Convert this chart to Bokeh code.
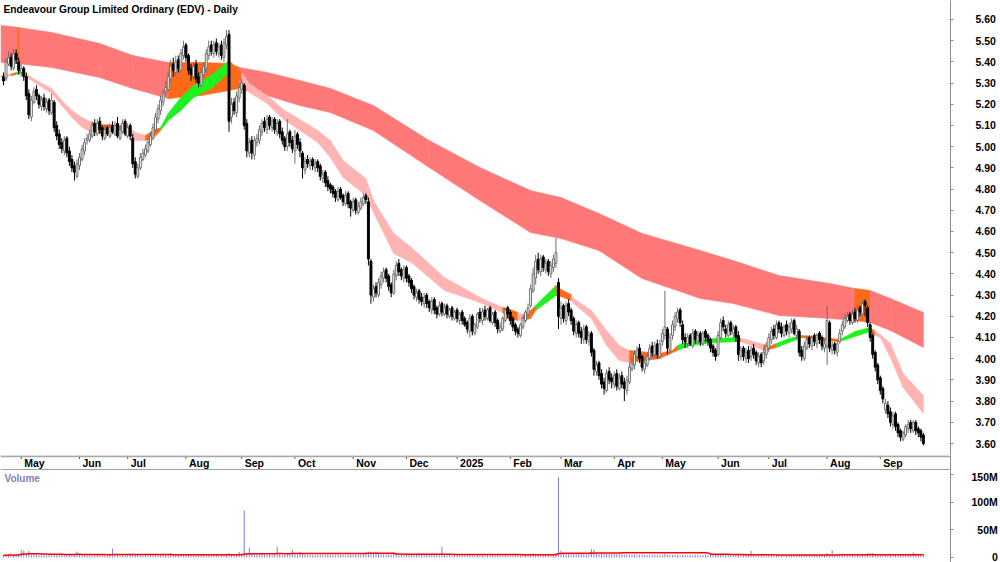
import numpy as np
import pandas as pd
from bokeh.plotting import figure
from bokeh.layouts import column
from bokeh.models import Range1d, FixedTicker, Label, Span, NumeralTickFormatter
from bokeh.embed import file_html
from bokeh.resources import INLINE
from bokeh.core.properties import value

FONT = "Liberation Sans"
FS = "10.5px"

title_text = "Endeavour Group Limited Ordinary (EDV) - Daily"

holidays = ["2024-04-25", "2024-06-10", "2024-12-25", "2024-12-26", "2025-01-01",
            "2025-01-27", "2025-04-18", "2025-04-21", "2025-04-25", "2025-06-09"]
first_day, last_day = "2024-04-19", "2025-09-24"
month_labels = ["May", "Jun", "Jul", "Aug", "Sep", "Oct", "Nov", "Dec", "2025",
                "Feb", "Mar", "Apr", "May", "Jun", "Jul", "Aug", "Sep"]

price_ticks = [3.60, 3.70, 3.80, 3.90, 4.00, 4.10, 4.20, 4.30, 4.40, 4.50, 4.60,
               4.70, 4.80, 4.90, 5.00, 5.10, 5.20, 5.30, 5.40, 5.50, 5.60]
vol_ticks = [0, 50, 100, 150]
vol_tick_labels = ["0", "50M", "100M", "150M"]

open_ = [
 5.33,5.32,5.39,5.42,5.37,5.44,5.40,5.35,5.37,5.33,
 5.25,5.14,5.21,5.27,5.24,5.19,5.23,5.18,5.22,5.16,
 5.21,5.10,5.06,5.02,4.98,5.04,4.98,4.94,4.91,4.86,
 4.91,4.94,4.98,5.03,5.03,5.05,5.11,5.06,5.12,5.09,
 5.04,5.09,5.05,5.10,5.06,5.11,5.04,5.07,5.12,5.05,
 5.10,5.04,4.93,4.86,4.90,4.94,4.96,4.98,5.01,5.04,
 5.08,5.13,5.17,5.21,5.26,5.27,5.32,5.39,5.35,5.41,
 5.36,5.43,5.48,5.43,5.37,5.33,5.39,5.33,5.29,5.34,
 5.37,5.43,5.48,5.44,5.49,5.44,5.48,5.42,5.48,5.53,
 5.14,5.21,5.16,5.23,5.27,5.29,5.11,4.97,5.03,4.96,
 5.02,5.03,5.07,5.12,5.08,5.14,5.09,5.13,5.07,5.12,
 5.07,5.04,5.00,5.07,5.03,4.98,5.06,5.02,4.97,4.89,
 4.94,4.91,4.94,4.90,4.93,4.91,4.85,4.88,4.84,4.82,
 4.81,4.79,4.75,4.80,4.77,4.73,4.78,4.74,4.70,4.75,
 4.69,4.71,4.73,4.77,4.74,4.46,4.29,4.34,4.30,4.35,
 4.38,4.42,4.39,4.35,4.31,4.39,4.45,4.42,4.38,4.43,
 4.39,4.37,4.34,4.29,4.32,4.29,4.26,4.30,4.27,4.23,
 4.28,4.24,4.21,4.26,4.21,4.25,4.20,4.24,4.19,4.23,
 4.18,4.22,4.19,4.17,4.13,4.20,4.12,4.15,4.22,4.18,
 4.23,4.19,4.24,4.17,4.22,4.18,4.13,4.14,4.18,4.24,
 4.22,4.19,4.16,4.14,4.11,4.15,4.18,4.21,4.25,4.32,
 4.38,4.47,4.41,4.48,4.42,4.46,4.40,4.43,4.45,4.36,
 4.19,4.25,4.18,4.26,4.23,4.19,4.12,4.17,4.13,4.09,
 4.15,4.08,4.12,4.04,3.94,3.98,3.93,3.89,3.85,3.94,
 3.91,3.88,3.93,3.86,3.92,3.89,3.85,3.89,3.95,3.97,
 4.01,4.05,4.01,3.95,3.97,4.00,4.06,4.02,4.07,4.01,
 4.08,4.11,4.14,4.04,4.11,4.15,4.19,4.23,4.16,4.10,
 4.07,4.11,4.06,4.13,4.08,4.12,4.07,4.13,4.11,4.09,
 4.06,4.04,4.02,4.10,4.18,4.14,4.11,4.17,4.12,4.15,
 4.11,4.01,4.05,4.00,4.04,4.01,4.05,4.03,3.98,4.02,
 3.99,4.02,4.05,4.09,4.14,4.10,4.17,4.15,4.11,4.16,
 4.12,4.14,4.18,4.11,4.13,4.04,4.00,4.05,4.10,4.06,
 4.11,4.07,4.12,4.10,4.05,4.06,4.17,4.04,4.07,4.03,
 4.08,4.13,4.15,4.18,4.21,4.17,4.22,4.18,4.24,4.21,
 4.27,4.24,4.16,4.11,4.03,3.97,3.91,3.86,3.76,3.78,
 3.75,3.69,3.74,3.69,3.66,3.62,3.64,3.67,3.70,3.66,
 3.70,3.67,3.66,3.64]

high = [
 5.35,5.42,5.45,5.44,5.46,5.46,5.42,5.39,5.38,5.35,
 5.27,5.24,5.28,5.29,5.25,5.24,5.25,5.23,5.23,5.25,
 5.22,5.12,5.08,5.04,5.05,5.05,5.00,4.96,4.93,4.94,
 4.97,5.01,5.04,5.06,5.08,5.12,5.13,5.13,5.14,5.10,
 5.10,5.10,5.11,5.12,5.12,5.14,5.10,5.13,5.13,5.11,
 5.11,5.06,4.95,4.92,4.97,4.99,5.01,5.04,5.07,5.11,
 5.16,5.20,5.24,5.27,5.31,5.35,5.41,5.42,5.43,5.43,
 5.46,5.50,5.49,5.44,5.39,5.40,5.41,5.35,5.37,5.40,
 5.46,5.50,5.50,5.50,5.51,5.49,5.50,5.51,5.55,5.55,
 5.23,5.23,5.26,5.30,5.32,5.30,5.13,5.04,5.05,5.05,
 5.06,5.10,5.13,5.14,5.15,5.15,5.14,5.14,5.13,5.13,
 5.09,5.05,5.13,5.08,5.05,5.08,5.07,5.04,4.98,4.95,
 4.96,4.95,4.95,4.94,4.94,4.92,4.89,4.89,4.86,4.83,
 4.82,4.80,4.81,4.81,4.78,4.79,4.79,4.75,4.76,4.76,
 4.74,4.76,4.78,4.78,4.76,4.47,4.35,4.36,4.38,4.41,
 4.43,4.43,4.40,4.36,4.42,4.46,4.47,4.43,4.44,4.44,
 4.40,4.38,4.35,4.33,4.33,4.31,4.31,4.31,4.28,4.29,
 4.29,4.25,4.27,4.27,4.26,4.26,4.24,4.25,4.23,4.24,
 4.22,4.23,4.20,4.18,4.21,4.21,4.17,4.22,4.24,4.24,
 4.25,4.24,4.25,4.22,4.23,4.19,4.17,4.20,4.24,4.25,
 4.23,4.20,4.17,4.15,4.17,4.20,4.23,4.26,4.35,4.43,
 4.49,4.50,4.49,4.49,4.47,4.47,4.46,4.49,4.57,4.38,
 4.27,4.26,4.27,4.28,4.24,4.20,4.18,4.18,4.15,4.16,
 4.16,4.13,4.13,4.05,3.99,3.99,3.95,3.91,3.95,3.96,
 3.93,3.94,3.95,3.93,3.94,3.91,3.92,3.98,4.00,4.04,
 4.06,4.07,4.02,4.00,4.03,4.07,4.08,4.08,4.09,4.09,
 4.14,4.32,4.15,4.12,4.18,4.22,4.24,4.24,4.18,4.12,
 4.12,4.12,4.14,4.14,4.13,4.13,4.13,4.14,4.12,4.10,
 4.07,4.05,4.13,4.19,4.20,4.16,4.18,4.18,4.16,4.16,
 4.13,4.06,4.06,4.05,4.06,4.06,4.07,4.04,4.03,4.03,
 4.05,4.08,4.12,4.15,4.16,4.18,4.18,4.17,4.16,4.18,
 4.17,4.19,4.19,4.16,4.14,4.06,4.08,4.11,4.11,4.11,
 4.12,4.12,4.13,4.11,4.09,4.25,4.18,4.08,4.08,4.09,
 4.14,4.18,4.21,4.22,4.22,4.23,4.24,4.25,4.25,4.28,
 4.28,4.25,4.17,4.12,4.04,3.98,3.92,3.87,3.81,3.80,
 3.77,3.75,3.75,3.70,3.67,3.66,3.69,3.71,3.71,3.71,
 3.71,3.68,3.67,3.65]

low = [
 5.29,5.31,5.38,5.36,5.36,5.39,5.34,5.33,5.31,5.22,
 5.13,5.12,5.20,5.22,5.18,5.17,5.17,5.16,5.15,5.15,
 5.07,5.03,4.99,4.97,4.96,4.95,4.91,4.88,4.84,4.85,
 4.89,4.93,4.96,5.01,5.02,5.04,5.05,5.05,5.06,5.03,
 5.03,5.05,5.04,5.06,5.05,5.04,5.03,5.06,5.05,5.04,
 5.03,4.90,4.85,4.85,4.89,4.93,4.95,4.97,5.00,5.03,
 5.07,5.11,5.15,5.19,5.24,5.26,5.30,5.33,5.33,5.35,
 5.35,5.41,5.40,5.34,5.31,5.31,5.30,5.28,5.28,5.32,
 5.35,5.41,5.43,5.42,5.43,5.42,5.41,5.40,5.46,5.07,
 5.11,5.15,5.14,5.21,5.25,5.08,4.95,4.95,4.94,4.94,
 5.00,5.01,5.05,5.07,5.06,5.08,5.07,5.06,5.05,5.04,
 5.01,4.98,4.98,5.00,4.97,4.92,4.99,4.95,4.85,4.87,
 4.90,4.89,4.89,4.88,4.88,4.84,4.83,4.81,4.79,4.78,
 4.76,4.74,4.74,4.75,4.72,4.72,4.71,4.67,4.69,4.68,
 4.68,4.70,4.72,4.73,4.44,4.26,4.27,4.29,4.29,4.33,
 4.36,4.36,4.32,4.29,4.30,4.37,4.39,4.37,4.36,4.36,
 4.34,4.31,4.28,4.27,4.26,4.25,4.24,4.24,4.22,4.21,
 4.21,4.19,4.20,4.20,4.20,4.19,4.19,4.18,4.18,4.17,
 4.16,4.16,4.15,4.12,4.10,4.11,4.11,4.14,4.17,4.16,
 4.18,4.18,4.17,4.16,4.15,4.12,4.12,4.13,4.17,4.19,
 4.16,4.13,4.11,4.10,4.10,4.14,4.17,4.20,4.24,4.31,
 4.35,4.40,4.39,4.41,4.40,4.39,4.38,4.41,4.43,4.14,
 4.16,4.17,4.16,4.20,4.16,4.11,4.10,4.10,4.07,4.07,
 4.07,4.06,4.01,3.92,3.92,3.90,3.86,3.83,3.84,3.88,
 3.86,3.86,3.85,3.85,3.86,3.80,3.83,3.88,3.94,3.95,
 3.99,3.98,3.94,3.93,3.96,3.99,4.01,4.00,4.00,4.00,
 4.06,4.09,4.02,4.02,4.09,4.13,4.17,4.15,4.07,4.05,
 4.05,4.06,4.05,4.07,4.07,4.06,4.06,4.08,4.06,4.03,
 4.01,3.99,4.01,4.09,4.13,4.10,4.10,4.11,4.10,4.08,
 3.99,3.99,3.99,3.98,3.98,3.99,4.00,3.97,3.96,3.96,
 3.97,4.00,4.03,4.07,4.09,4.09,4.12,4.10,4.10,4.11,
 4.10,4.12,4.11,4.09,4.01,3.99,3.99,4.04,4.05,4.04,
 4.06,4.05,4.07,4.04,4.03,3.97,4.03,4.02,4.02,4.01,
 4.07,4.11,4.14,4.17,4.16,4.16,4.17,4.17,4.20,4.20,
 4.20,4.15,4.08,4.00,3.94,3.88,3.83,3.79,3.74,3.72,
 3.68,3.67,3.66,3.63,3.61,3.61,3.63,3.65,3.65,3.65,
 3.64,3.63,3.61,3.59]

close = [
 5.31,5.40,5.42,5.38,5.44,5.41,5.36,5.37,5.33,5.24,
 5.15,5.22,5.26,5.24,5.20,5.22,5.19,5.21,5.17,5.22,
 5.09,5.05,5.01,4.99,5.03,4.97,4.93,4.90,4.88,4.92,
 4.95,4.99,5.02,5.04,5.06,5.10,5.07,5.11,5.08,5.05,
 5.08,5.06,5.09,5.07,5.10,5.05,5.08,5.11,5.06,5.09,
 5.05,4.92,4.87,4.90,4.95,4.97,4.99,5.02,5.05,5.09,
 5.14,5.18,5.22,5.25,5.28,5.33,5.38,5.36,5.40,5.37,
 5.44,5.47,5.42,5.36,5.34,5.38,5.32,5.30,5.35,5.38,
 5.44,5.47,5.45,5.48,5.45,5.47,5.43,5.49,5.52,5.12,
 5.20,5.17,5.24,5.28,5.30,5.10,4.98,5.02,4.97,5.03,
 5.04,5.08,5.11,5.09,5.13,5.10,5.12,5.08,5.11,5.06,
 5.03,5.00,5.06,5.02,4.99,5.05,5.01,4.98,4.90,4.93,
 4.92,4.93,4.91,4.92,4.90,4.86,4.87,4.83,4.81,4.80,
 4.78,4.76,4.79,4.76,4.74,4.77,4.73,4.71,4.74,4.70,
 4.72,4.74,4.76,4.75,4.47,4.30,4.33,4.31,4.36,4.39,
 4.41,4.38,4.34,4.31,4.40,4.44,4.41,4.39,4.42,4.38,
 4.36,4.33,4.30,4.31,4.28,4.27,4.29,4.26,4.24,4.27,
 4.23,4.21,4.25,4.22,4.24,4.21,4.23,4.20,4.22,4.19,
 4.21,4.18,4.16,4.14,4.19,4.13,4.16,4.21,4.19,4.22,
 4.20,4.23,4.18,4.21,4.17,4.14,4.15,4.19,4.23,4.21,
 4.18,4.15,4.13,4.12,4.16,4.19,4.22,4.24,4.33,4.40,
 4.46,4.42,4.47,4.43,4.45,4.41,4.44,4.47,4.50,4.20,
 4.24,4.19,4.25,4.22,4.18,4.13,4.16,4.12,4.10,4.14,
 4.09,4.11,4.03,3.95,3.97,3.92,3.88,3.86,3.93,3.90,
 3.89,3.92,3.87,3.91,3.88,3.86,3.90,3.96,3.98,4.02,
 4.04,4.00,3.96,3.98,4.01,4.05,4.03,4.06,4.02,4.07,
 4.12,4.15,4.05,4.10,4.16,4.20,4.22,4.17,4.09,4.08,
 4.10,4.07,4.12,4.09,4.11,4.08,4.12,4.10,4.08,4.05,
 4.03,4.01,4.11,4.17,4.15,4.12,4.16,4.13,4.14,4.10,
 4.02,4.04,4.01,4.03,4.00,4.04,4.02,3.99,4.01,3.98,
 4.03,4.06,4.10,4.13,4.11,4.16,4.14,4.12,4.15,4.13,
 4.15,4.17,4.12,4.14,4.03,4.01,4.06,4.09,4.07,4.10,
 4.08,4.11,4.09,4.06,4.07,4.18,4.05,4.06,4.04,4.07,
 4.12,4.16,4.19,4.20,4.18,4.21,4.19,4.23,4.22,4.26,
 4.25,4.17,4.10,4.02,3.96,3.90,3.85,3.81,3.79,3.74,
 3.70,3.73,3.68,3.65,3.63,3.65,3.68,3.69,3.67,3.70,
 3.66,3.65,3.63,3.60]

volume_m = [
 4.2,3.8,5.1,4.4,3.9,4.6,5.3,14.0,12.5,6.1,
 11.8,5.5,8.2,4.9,4.1,3.6,4.4,3.9,4.7,3.5,
 5.2,4.4,3.9,4.1,3.6,4.8,5.0,4.3,6.2,10.8,
 4.5,3.9,4.2,3.7,4.1,3.5,3.8,4.4,3.6,3.9,
 4.0,3.4,4.6,15.8,5.2,4.1,3.7,4.5,3.8,4.2,
 6.5,7.2,5.6,4.8,4.2,3.9,4.4,3.7,4.1,4.6,
 5.0,4.5,4.9,5.3,4.6,5.8,8.1,4.7,5.2,4.4,
 5.9,4.8,4.3,5.1,4.6,4.0,4.7,5.3,4.2,3.9,
 4.4,4.1,3.8,4.6,4.2,3.9,4.8,5.4,6.2,8.3,
 5.8,4.9,5.6,10.2,6.4,85.0,8.2,17.8,7.1,6.3,
 5.5,4.9,8.0,5.2,4.6,5.1,4.4,4.8,19.6,6.0,
 5.1,4.7,5.5,4.9,13.9,5.3,4.6,10.1,6.8,5.2,
 4.5,4.9,4.2,4.6,4.0,5.3,4.4,4.8,5.6,4.3,
 4.7,4.1,5.0,4.4,4.8,3.9,4.5,5.2,4.6,5.5,
 4.9,5.3,6.1,9.8,10.5,9.6,8.4,10.2,7.5,6.3,
 5.8,5.2,6.0,5.4,8.9,5.7,5.1,4.8,5.3,4.6,
 5.0,4.4,4.9,5.2,7.0,4.8,4.3,4.7,5.1,4.5,
 4.2,4.8,3.9,19.8,4.4,3.7,4.1,3.5,3.9,4.3,
 3.8,4.5,4.0,4.7,5.2,4.1,3.6,4.4,3.9,4.2,
 3.7,4.3,4.0,4.6,3.8,4.9,4.2,3.6,4.5,4.1,
 4.4,3.9,4.7,4.2,5.1,4.5,4.8,5.3,6.9,7.4,
 6.2,5.5,4.9,5.8,5.1,4.7,5.4,6.0,7.8,145.0,
 12.4,8.6,7.1,6.3,5.9,6.8,5.5,6.2,7.0,6.4,
 5.8,6.9,15.2,14.6,9.3,7.2,8.1,7.8,7.4,6.5,
 5.9,6.4,5.7,7.1,6.0,5.4,5.8,5.2,4.9,5.5,
 5.1,4.6,5.3,4.8,4.4,5.0,4.5,4.9,4.2,4.6,
 4.8,6.5,5.2,4.7,4.3,5.0,4.6,4.1,4.8,4.4,
 4.0,4.6,4.2,4.9,4.3,3.8,4.4,4.7,4.1,5.2,
 4.6,5.0,5.8,4.9,4.4,4.1,4.7,4.3,3.9,4.5,
 5.1,4.4,4.8,4.2,3.8,12.1,4.6,4.3,3.9,4.5,
 4.1,3.7,4.4,4.0,3.6,4.3,3.9,4.2,3.5,4.0,
 3.8,4.4,4.1,3.7,5.9,6.2,4.5,4.0,4.3,3.9,
 4.2,3.8,4.5,4.1,5.0,7.6,5.4,13.2,5.1,4.6,
 4.3,4.9,4.5,4.2,4.7,4.4,4.0,4.6,4.3,5.1,
 5.5,7.9,8.3,8.0,6.9,6.2,5.8,6.4,5.5,5.9,
 5.2,4.8,5.4,5.0,4.7,5.3,4.9,4.5,5.1,9.2,
 5.0,4.6,5.3,5.8]

# long-term moving-average band (bar index, upper, lower)
long_i = [-1, 5.6, 6.4, 19, 38, 51, 65, 78, 89, 93, 104, 117, 129, 146, 168, 188,
          208, 220, 235, 252, 275, 288, 306, 326, 336, 342, 350, 363]
long_top = [5.572, 5.563, 5.561, 5.539, 5.487, 5.430, 5.397, 5.397, 5.392, 5.374,
            5.350, 5.312, 5.275, 5.194, 5.029, 4.902, 4.793, 4.760, 4.685, 4.591,
            4.510, 4.463, 4.392, 4.355, 4.331, 4.322, 4.284, 4.218]
long_bot = [5.397, 5.392, 5.391, 5.374, 5.326, 5.275, 5.227, 5.241, 5.265, 5.275,
            5.241, 5.194, 5.161, 5.076, 4.902, 4.746, 4.595, 4.567, 4.510, 4.378,
            4.284, 4.260, 4.204, 4.190, 4.180, 4.171, 4.133, 4.053]
long_state = ["r", "o", "r", "r", "r", "r", "o", "o", "o", "r", "r", "r", "r", "r",
              "r", "r", "r", "r", "r", "r", "r", "r", "r", "r", "o", "r", "r"]

# short-term moving-average band
short_i = [-1, 3, 5, 7, 13, 19, 23, 27, 31, 35, 38, 48, 52, 56, 59, 62, 65, 70, 75, 82,
           89, 91, 94, 97, 104, 111, 117, 124, 129, 134, 143, 146, 154, 161, 174, 188,
           197, 199, 203, 205, 208, 210, 218, 220, 224, 225, 232, 238, 243, 247, 259,
           264, 266, 271, 281, 290, 291, 293, 300, 302, 305, 310, 315, 319, 330, 336,
           342, 344, 346, 350, 355, 363]
short_top = [5.336, 5.343, 5.350, 5.359, 5.312, 5.275, 5.218, 5.171, 5.138, 5.114,
             5.105, 5.100, 5.067, 5.053, 5.076, 5.090, 5.157, 5.232, 5.289, 5.336,
             5.407, 5.383, 5.350, 5.298, 5.241, 5.171, 5.128, 5.076, 5.029, 4.935,
             4.850, 4.746, 4.591, 4.525, 4.383, 4.289, 4.242, 4.237, 4.218, 4.208,
             4.227, 4.251, 4.345, 4.326, 4.303, 4.284, 4.227, 4.133, 4.062, 4.039,
             4.025, 4.039, 4.062, 4.086, 4.095, 4.100, 4.095, 4.091, 4.067, 4.058,
             4.072, 4.095, 4.109, 4.105, 4.091, 4.128, 4.147, 4.128, 4.114, 4.072,
             3.930, 3.826]
short_bot = [5.326, 5.335, 5.341, 5.345, 5.298, 5.251, 5.194, 5.138, 5.091, 5.067,
             5.067, 5.072, 5.029, 5.029, 5.039, 5.076, 5.124, 5.171, 5.232, 5.275,
             5.350, 5.322, 5.312, 5.256, 5.204, 5.124, 5.076, 5.020, 4.949, 4.855,
             4.770, 4.690, 4.496, 4.454, 4.322, 4.265, 4.218, 4.190, 4.180, 4.180,
             4.190, 4.227, 4.298, 4.293, 4.274, 4.260, 4.190, 4.062, 3.991, 3.982,
             4.001, 4.029, 4.039, 4.062, 4.076, 4.081, 4.081, 4.072, 4.039, 4.043,
             4.053, 4.076, 4.100, 4.091, 4.081, 4.105, 4.128, 4.109, 4.100, 4.006,
             3.864, 3.742]
short_state = ["p", "o", "g", "p", "p", "p", "p", "p", "p", "o", "o", "p", "p", "o", "o",
               "g", "g", "g", "g", "g", "o", "o", "p", "p", "p", "p", "p", "p", "p", "p",
               "p", "p", "p", "p", "p", "p", "o", "o", "p", "o", "o", "g", "o", "o", "p",
               "p", "p", "p", "p", "o", "o", "o", "g", "g", "g", "o", "p", "p", "o", "o",
               "g", "g", "o", "o", "g", "g", "o", "p", "p", "p", "p"]

long_colors = {"r": "#FF7878", "o": "#FF6A1A"}
short_colors = {"p": "#FFB4B4", "o": "#FF6A1A", "g": "#1FF01F"}

# ---------------- dates / month ticks ----------------
dates = pd.bdate_range(first_day, last_day)
dates = dates[~dates.isin(pd.to_datetime(holidays))]
n = len(close)
dates = dates[:n]
month_pos = [k for k in range(1, len(dates)) if dates[k].month != dates[k - 1].month]
month_pos = month_pos[:len(month_labels)]

idx = np.arange(n)
o = np.array(open_); c = np.array(close); h = np.array(high); l = np.array(low)
up = c >= o

X0, X1 = -1.18, 373.7
xr = Range1d(X0, X1)

common = dict(width=1000, x_range=xr, output_backend="svg", toolbar_location=None,
              x_axis_location=None, y_axis_location="right", min_border_left=0,
              min_border_right=49, min_border_top=0, min_border_bottom=0,
              outline_line_color=None, background_fill_color="white",
              border_fill_color="white")

AX = "#8C8C8C"

def style_axis(ax):
    ax.axis_line_color = AX
    ax.axis_line_width = 1
    ax.major_tick_line_color = AX
    ax.major_tick_out = 3
    ax.major_tick_in = 0
    ax.minor_tick_line_color = None
    ax.major_label_text_font = FONT
    ax.major_label_text_font_style = "bold"
    ax.major_label_text_font_size = FS
    ax.major_label_text_color = "black"

# ---------------- price panel ----------------
p = figure(height=455, y_range=Range1d(3.5434, 5.6896), **common)
p.grid.visible = False
ax = p.yaxis[0]
style_axis(ax)
ax.ticker = FixedTicker(ticks=price_ticks)
ax.formatter = NumeralTickFormatter(format="0.00")
ax.major_label_standoff = 22

def band_patches(ii, top, bot, states, cmap):
    xs, ys, cols = [], [], []
    for k in range(1, len(ii)):
        a, b = ii[k - 1], ii[k]
        xs.append([a, b, b, a])
        ys.append([top[k - 1], top[k], bot[k], bot[k - 1]])
        cols.append(cmap[states[k - 1]])
    return xs, ys, cols

xs, ys, cols = band_patches(long_i, long_top, long_bot, long_state, long_colors)
p.patches(xs, ys, fill_color=cols, line_color=cols, line_width=0.6)
xs, ys, cols = band_patches(short_i, short_top, short_bot, short_state, short_colors)
p.patches(xs, ys, fill_color=cols, line_color=cols, line_width=0.6)

wick_col = np.where(up, "#6E6E6E", "#000000")
p.segment(x0=idx, y0=l, x1=idx, y1=h, color=list(wick_col), line_width=1)
body_fill = np.where(up, "#FFFFFF", "#000000")
body_line = np.where(up, "#6E6E6E", "#000000")
p.vbar(x=idx, width=0.76, top=np.maximum(o, c), bottom=np.minimum(o, c),
       fill_color=list(body_fill), line_color=list(body_line), line_width=1)

p.add_layout(Label(x=3, y=452, x_units="screen", y_units="screen", text=title_text,
                   text_font=FONT, text_font_style="bold", text_font_size="10.2px",
                   text_color="black", text_baseline="top"))

# ---------------- date strip ----------------
d = figure(height=15, y_range=Range1d(0, 15), **common)
d.grid.visible = False
dax = d.yaxis[0]
style_axis(dax)
dax.ticker = FixedTicker(ticks=[])
dax.major_label_text_font_size = "0px"
d.add_layout(Span(location=14.2, dimension="width", line_color="#A8A8A8", line_width=2))
d.add_layout(Span(location=0.6, dimension="width", line_color="#7F7F7F", line_width=1.5))
d.segment(x0=month_pos, y0=[15] * len(month_pos), x1=month_pos, y1=[11.5] * len(month_pos),
          color="#555555", line_width=1)
d.text(x=month_pos, y=[7.2] * len(month_pos), text=month_labels[:len(month_pos)],
       x_offset=3, text_align="left", text_baseline="middle", text_font=value(FONT),
       text_font_style="bold", text_font_size=FS, text_color="black")

# ---------------- volume panel ----------------
vol = np.array(volume_m)
vol_ma = pd.Series(vol).rolling(60, min_periods=1).mean().values
v = figure(height=92, y_range=Range1d(-9.04, 157.2), **common)
v.grid.visible = False
vax = v.yaxis[0]
style_axis(vax)
vax.ticker = FixedTicker(ticks=vol_ticks)
# right-align the volume labels the way the original does (pad with no-break spaces)
pad = {"0": 7, "50M": 2, "100M": 0, "150M": 0}
vax.major_label_overrides = {t: "\u00a0" * pad[s] + s for t, s in zip(vol_ticks, vol_tick_labels)}
vax.major_label_standoff = 18
v.segment(x0=idx, y0=np.zeros(n), x1=idx, y1=vol, color="#7F7FE0", line_width=1)
v.line(idx, vol_ma, color="#FF0000", line_width=1.5)
v.add_layout(Label(x=4, y=90, x_units="screen", y_units="screen", text="Volume",
                   text_font=FONT, text_font_style="bold", text_font_size="10px",
                   text_color="#8080C0", text_baseline="top"))

layout = column(p, d, v, spacing=0)
open("out.html", "w").write(file_html(layout, INLINE))
